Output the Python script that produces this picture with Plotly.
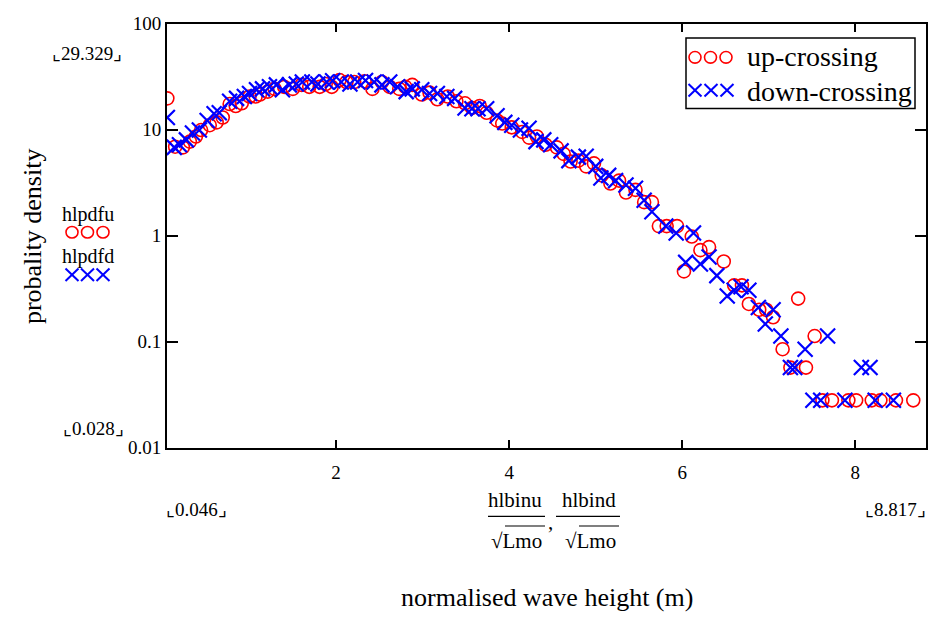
import plotly.graph_objects as go

W, H = 928, 624

# up-crossing (red circles)
red_x = [0.05, 0.14, 0.23, 0.31, 0.38, 0.44, 0.54, 0.62, 0.69, 0.77, 0.84, 0.91, 1.00, 1.07, 1.12,
         1.21, 1.29, 1.40, 1.50, 1.60, 1.69, 1.81, 1.88, 1.95, 2.04, 2.12, 2.21, 2.33, 2.42, 2.53,
         2.62, 2.73, 2.80, 2.88, 2.99, 3.08, 3.17, 3.29, 3.39, 3.49, 3.57, 3.66, 3.74, 3.86, 3.92,
         4.03, 4.15, 4.23, 4.32, 4.42, 4.55, 4.63, 4.71, 4.80, 4.89, 4.98, 5.07, 5.17, 5.27, 5.35,
         5.46, 5.56, 5.65, 5.73, 5.82, 5.94, 6.02, 6.11, 6.21, 6.31, 6.48, 6.60, 6.69, 6.77, 6.89,
         6.97, 7.05, 7.16, 7.25, 7.34, 7.43, 7.53, 7.62, 7.73, 7.92, 8.01, 8.19, 8.29, 8.47, 8.67,
         8.76]
red_y = [19.7, 6.9, 6.8, 7.7, 8.6, 9.9, 11.0, 11.7, 13.0, 17.4, 16.7, 17.7, 20.5, 20.5, 21.4,
         22.8, 24.2, 25.3, 24.2, 26.4, 25.3, 25.3, 26.9, 25.3, 29.3, 28.1, 28.1, 28.6, 24.2, 28.1,
         25.3, 24.2, 25.3, 26.4, 21.4, 22.3, 19.3, 20.5, 18.5, 17.7, 16.0, 16.7, 14.4, 12.2, 11.4,
         10.5, 9.5, 8.4, 8.6, 7.2, 6.8, 5.9, 5.0, 5.1, 4.5, 4.8, 3.7, 3.1, 3.3, 2.55,
         2.7, 2.07, 2.07, 1.23, 1.23, 1.23, 0.46, 0.98, 0.73, 0.78, 0.57, 0.34, 0.34, 0.227, 0.20,
         0.20, 0.17, 0.085, 0.057, 0.255, 0.057, 0.113, 0.028, 0.028, 0.028, 0.028, 0.028, 0.028, 0.028,
         0.028]

# down-crossing (blue crosses)
blue_x = [0.05, 0.13, 0.19, 0.27, 0.34, 0.42, 0.51, 0.59, 0.65, 0.77, 0.85, 0.94, 1.00, 1.08, 1.15,
          1.23, 1.31, 1.38, 1.46, 1.54, 1.61, 1.72, 1.79, 1.89, 1.96, 2.06, 2.16, 2.25, 2.34, 2.44,
          2.53, 2.62, 2.71, 2.81, 2.88, 2.99, 3.08, 3.17, 3.28, 3.37, 3.49, 3.57, 3.64, 3.74, 3.86,
          3.95, 4.03, 4.13, 4.23, 4.31, 4.40, 4.48, 4.60, 4.69, 4.80, 4.89, 5.00, 5.06, 5.15, 5.23,
          5.35, 5.46, 5.56, 5.65, 5.81, 5.93, 6.04, 6.13, 6.21, 6.31, 6.40, 6.52, 6.60, 6.68, 6.77,
          6.88, 6.96, 7.05, 7.14, 7.25, 7.30, 7.42, 7.51, 7.60, 7.68, 7.88, 8.07, 8.17, 8.23, 8.44]
blue_y = [13.0, 6.8, 7.2, 8.0, 9.3, 9.9, 12.2, 14.1, 14.4, 18.5, 19.7, 20.5, 21.9, 23.7, 24.2,
          25.3, 26.4, 23.7, 26.4, 26.9, 28.1, 28.1, 26.9, 28.1, 28.9, 28.1, 26.9, 28.1, 29.0, 28.1,
          26.4, 28.1, 25.3, 22.8, 24.2, 23.7, 21.9, 21.9, 20.5, 19.7, 16.0, 15.7, 15.7, 15.7, 13.5,
          11.7, 11.0, 9.9, 10.3, 7.7, 8.0, 7.2, 6.3, 5.1, 5.5, 5.6, 4.5, 3.5, 3.7, 3.3,
          3.0, 2.8, 2.16, 1.68, 1.23, 1.06, 0.56, 1.06, 0.54, 0.63, 0.42, 0.27, 0.305, 0.33, 0.305,
          0.21, 0.147, 0.20, 0.113, 0.057, 0.057, 0.085, 0.028, 0.028, 0.113, 0.028, 0.057, 0.057, 0.028, 0.028]

x_range = [0.046, 8.817]
y_ticks = [0.01, 0.1, 1, 10, 100]
y_ticktext = ["0.01", "0.1", "1", "10", "100"]
x_ticks = [2, 4, 6, 8]

FONT = "Liberation Serif, Times New Roman, serif"
RED = "#ff0000"
BLUE = "#0000ff"


def fx(px):
    return px / W


def fy(py):
    return 1 - py / H


fig = go.Figure()
fig.add_trace(go.Scatter(x=red_x, y=red_y, mode="markers", name="up-crossing",
                         marker=dict(symbol="circle-open", size=13, color=RED,
                                     line=dict(width=1.6, color=RED))))
fig.add_trace(go.Scatter(x=blue_x, y=blue_y, mode="markers", name="down-crossing",
                         marker=dict(symbol="x-thin-open", size=15, color=BLUE,
                                     line=dict(width=2.2, color=BLUE))))

ann = []
shapes = []


def txt(s, px, py, size, color="black", xanchor="center", angle=0):
    ann.append(dict(text=s, x=fx(px), y=fy(py), xref="paper", yref="paper",
                    showarrow=False, xanchor=xanchor, yanchor="middle", textangle=angle,
                    font=dict(family=FONT, size=size, color=color)))


def line(x0, y0, x1, y1, color="black", width=1.3):
    shapes.append(dict(type="line", xref="paper", yref="paper", x0=fx(x0), x1=fx(x1),
                       y0=fy(y0), y1=fy(y1), line=dict(color=color, width=width)))


def circle_glyphs(cx_list, cy, r=6):
    # three little circles, like the marker sample in a Mathcad legend
    for cx in cx_list:
        shapes.append(dict(type="circle", xref="paper", yref="paper",
                           x0=fx(cx - r), x1=fx(cx + r), y0=fy(cy + r), y1=fy(cy - r),
                           line=dict(color=RED, width=1.6)))


def cross_glyphs(cx_list, cy, r=6.5):
    for cx in cx_list:
        line(cx - r, cy - r, cx + r, cy + r, BLUE, 2)
        line(cx - r, cy + r, cx + r, cy - r, BLUE, 2)


# Mathcad-style limit labels
txt("\u231e29.329\u231f", 87, 45, 19)
txt("\u231e0.028\u231f", 93, 433, 19)
txt("\u231e0.046\u231f", 196, 517, 19)
txt("\u231e8.817\u231f", 895, 517, 19)

# trace names at left
txt("hlpdfu", 88, 212, 20)
circle_glyphs([72, 87.5, 103], 230)
txt("hlpdfd", 88, 255, 20)
cross_glyphs([72, 87.5, 103], 274)

# axis titles
txt("probality density", 32, 235, 26, angle=-90)
txt("normalised wave height (m)", 547, 608, 26)

# x expression
txt("hlbinu", 515, 507, 21)
txt("\u221aLmo", 516, 549, 21)
txt(",", 550, 530, 21)
txt("hlbind", 589, 507, 21)
txt("\u221aLmo", 590, 549, 21)
line(488, 524, 545, 524)
line(556, 524, 620, 524)
line(505, 534, 545, 534, width=1.1)
line(579, 534, 619, 534, width=1.1)

# legend
shapes.append(dict(type="rect", xref="paper", yref="paper", x0=fx(686), x1=fx(915),
                   y0=fy(29), y1=fy(102), line=dict(color="black", width=1.5)))
circle_glyphs([695, 710.5, 726], 49)
txt("up-crossing", 745, 48, 28, xanchor="left")
cross_glyphs([695, 711, 727], 83)
txt("down-crossing", 745, 84, 28, xanchor="left")

fig.update_layout(
    width=W, height=H,
    margin=dict(l=0, r=0, t=0, b=0),
    paper_bgcolor="white", plot_bgcolor="white",
    showlegend=False,
    annotations=ann,
    shapes=shapes,
    font=dict(family=FONT, size=19, color="black"),
    xaxis=dict(domain=[fx(167), fx(926)], range=x_range, tickvals=x_ticks,
               showline=True, linecolor="black", linewidth=2, mirror="ticks",
               ticks="inside", ticklen=8, tickwidth=2, tickcolor="black", ticklabelstandoff=6,
               showgrid=False, zeroline=False, tickfont=dict(family=FONT, size=19)),
    yaxis=dict(domain=[fy(453), fy(14)], type="log", range=[-2, 2],
               tickvals=y_ticks, ticktext=y_ticktext,
               showline=True, linecolor="black", linewidth=2, mirror="ticks",
               ticks="inside", ticklen=11, tickwidth=2, tickcolor="black",
               showgrid=False, zeroline=False, tickfont=dict(family=FONT, size=19)),
)

# page has a default body margin; drop it so the figure sits at the window origin
fig.write_html("out.html", config={"displayModeBar": False},
               post_script="document.body.style.margin='0';")
